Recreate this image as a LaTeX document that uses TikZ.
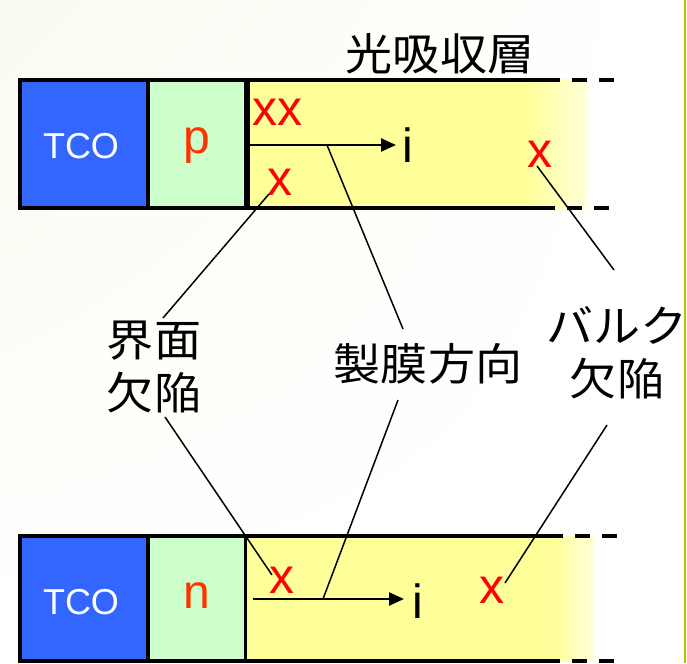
\documentclass[tikz,border=0pt]{standalone}
\usepackage{fontspec}
\setmainfont{Liberation Sans}
\newfontfamily\jpfont{Noto Sans CJK JP}
\usetikzlibrary{arrows.meta,shadings}

\definecolor{tcoblue}{RGB}{51,102,255}
\definecolor{layergreen}{RGB}{204,255,204}
\definecolor{absyellow}{RGB}{255,255,153}
\definecolor{fadeyellow}{RGB}{255,255,218}
\definecolor{defectred}{RGB}{255,0,0}
\definecolor{dopered}{RGB}{255,51,0}
\definecolor{edgegreen}{RGB}{160,204,0}
\definecolor{cream}{RGB}{251,251,241}

\begin{document}
\begin{tikzpicture}[x=1pt,y=-1pt,
  frame/.style={line width=3.5pt},
  dashext/.style={line width=3.5pt,dash pattern=on 15pt off 12pt},
  jplabel/.style={font=\jpfont\fontsize{44}{53}\selectfont,inner sep=0pt,xscale=1.07,align=center},
  tcotext/.style={font=\fontsize{36}{36}\selectfont,text=white,inner sep=0pt},
  dopetext/.style={font=\fontsize{48}{48}\selectfont,text=dopered,inner sep=0pt},
  defect/.style={font=\fontsize{50}{50}\selectfont,text=defectred,inner sep=0pt},
  itext/.style={font=\fontsize{48}{48}\selectfont,inner sep=0pt},
  flow/.style={line width=2.5pt,-{Triangle[length=15pt,width=13pt]}},
  leader/.style={line width=1.5pt}]

\useasboundingbox (0,0) rectangle (687,663);
% soft cream tint in the upper left of the background
\shade[upper left=cream,upper right=white,lower left=white,lower right=white]
  (0,0) rectangle (687,663);
\draw[edgegreen,line width=2pt] (685,0) -- (685,663);

% ---------- upper stack: TCO / p / absorber ----------
\fill[tcoblue] (20,80) rectangle (148,208);
\fill[layergreen] (148,80) rectangle (246,208);
\fill[absyellow] (246,80) rectangle (526,208);
\shade[left color=absyellow,right color=fadeyellow] (525,80) rectangle (588,208);
\draw[frame] (20,80) -- (545,80);
\draw[dashext] (545,80) -- (620,80);
\draw[frame] (20,208) -- (540,208);
\draw[dashext] (540,208) -- (610,208);
\draw[frame] (20,78.25) -- (20,209.75);
\draw[frame] (148,80) -- (148,208);
\draw[line width=6pt] (246.5,80) -- (246.5,208);

\node[jplabel] (title) at (440,54) {光吸収層};
\node[tcotext] (tcoA) at (81,146) {TCO};
\node[dopetext] (pl) at (197,146) {p};
\node[defect] (xxA) at (277,112) {xx};
\node[defect] (xA) at (280,182) {x};
\node[defect] (xbA) at (540,154) {x};
\coordinate (fA0) at (249,145);
\coordinate (fA1) at (396,145);
\coordinate (fAm) at (327,145);
\draw[flow] (fA0) -- (fA1);
\node[itext] (iA) at (408,145) {i};

% ---------- lower stack: TCO / n / absorber ----------
\fill[tcoblue] (20,536) rectangle (148,661);
\fill[layergreen] (148,536) rectangle (245,661);
\fill[absyellow] (245,536) rectangle (554,661);
\shade[left color=absyellow,right color=fadeyellow] (553,536) rectangle (594,661);
\draw[frame] (20,536) -- (548,536);
\draw[dashext] (548,536) -- (628,536);
\draw[frame] (20,661) -- (545,661);
\draw[dashext] (545,661) -- (622,661);
\draw[frame] (20,534.25) -- (20,662.75);
\draw[frame] (148,536) -- (148,661);
\draw[line width=3pt] (245,536) -- (245,661);

\node[tcotext] (tcoB) at (81,602) {TCO};
\node[dopetext] (nl) at (197,596) {n};
\node[defect] (xB) at (282,580) {x};
\node[defect] (xbB) at (492,590) {x};
\coordinate (fB0) at (253,599);
\coordinate (fB1) at (404,599);
\coordinate (fBm) at (323,599);
\draw[flow] (fB0) -- (fB1);
\node[itext] (iB) at (418,601) {i};

% ---------- labels between the stacks ----------
\node[jplabel] (iface) at (154,367) {界面\\欠陥};
\node[jplabel] (film) at (428,364) {製膜方向};
\node[jplabel] (bulk) at (617,353) {バルク\\欠陥};

% leader line end points
\coordinate (xAtail) at (269,194);
\coordinate (ifaceTop) at (163,318);
\coordinate (ifaceBot) at (165,417);
\coordinate (xBtail) at (272,575);
\coordinate (filmTop) at (403,329);
\coordinate (filmBot) at (398,400);
\coordinate (xbAtail) at (537,166);
\coordinate (bulkTop) at (614,270);
\coordinate (bulkBot) at (607,425);
\coordinate (xbBtail) at (505,583);

\draw[leader] (xAtail) -- (ifaceTop);
\draw[leader] (ifaceBot) -- (xBtail);
\draw[leader] (fAm) -- (filmTop);
\draw[leader] (filmBot) -- (fBm);
\draw[leader] (xbAtail) -- (bulkTop);
\draw[leader] (bulkBot) -- (xbBtail);
\end{tikzpicture}
\end{document}
